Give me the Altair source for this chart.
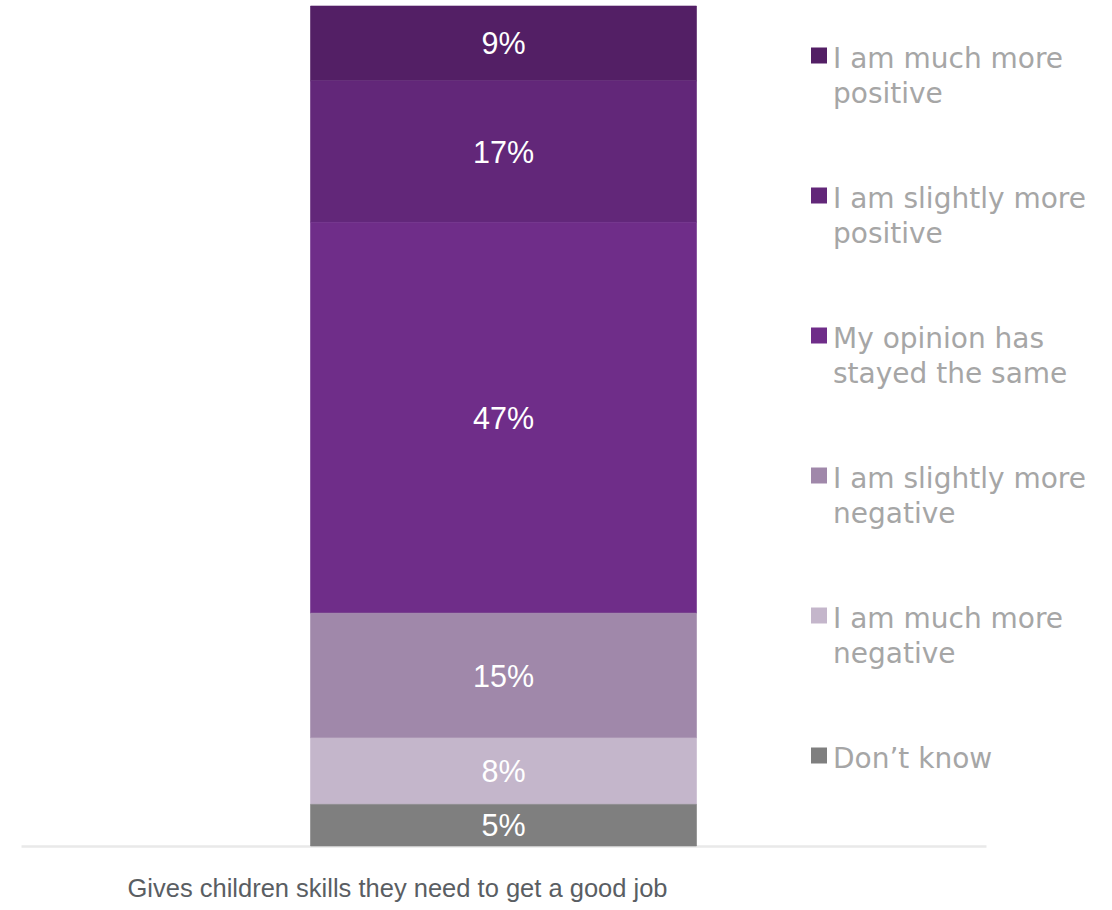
import json
import altair as alt
import pandas as pd

question = "Gives children skills they need to get a good job"
categories = [
    "I am much more positive",
    "I am slightly more positive",
    "My opinion has stayed the same",
    "I am slightly more negative",
    "I am much more negative",
    "Don\u2019t know",
]
label_lines = [
    ["I am much more", "positive"],
    ["I am slightly more", "positive"],
    ["My opinion has", "stayed the same"],
    ["I am slightly more", "negative"],
    ["I am much more", "negative"],
    ["Don\u2019t know"],
]
values = [9, 17, 47, 15, 8, 5]
colors = ["#531f65", "#622779", "#6f2d89", "#a088aa", "#c4b6cb", "#7f7f7f"]

n = len(categories)
df = pd.DataFrame({
    "q": [question] * n,
    "cat": categories,
    "v": values,
    "rank": [n - 1 - i for i in range(n)],
    "lab": [f"{v}%" for v in values],
})

label_expr = " : ".join(
    f"datum.label == {json.dumps(c)} ? {json.dumps(l)}" for c, l in zip(categories, label_lines)
) + " : datum.label"

x_enc = alt.X(
    "q:N",
    scale=alt.Scale(paddingInner=0, paddingOuter=0.75),
    axis=alt.Axis(
        title=None,
        ticks=False,
        domainColor="#e9e9e9",
        domainWidth=2.5,
        labelFont="Liberation Sans",
        labelFontSize=25.5,
        labelColor="#5a5e63",
        labelOffset=-106,
        labelPadding=40,
        labelLimit=0,
        labelAngle=0,
    ),
)
y_scale = alt.Scale(domain=[0, 101], nice=False, zero=True)
color_scale = alt.Scale(domain=categories, range=colors)

base = alt.Chart(df).transform_stack(
    stack="v", groupby=["q"], as_=["y0", "y1"], sort=[alt.SortField("rank", order="ascending")]
).transform_calculate(mid="(datum.y0 + datum.y1) / 2")

bars = base.mark_bar(strokeWidth=0.6).encode(
    x=x_enc,
    y=alt.Y("y0:Q", scale=y_scale, axis=None),
    y2="y1:Q",
    stroke=alt.Stroke("cat:N", scale=color_scale, legend=None),
    color=alt.Color(
        "cat:N",
        scale=color_scale,
        legend=alt.Legend(
            title=None,
            orient="none",
            legendX=784,
            legendY=35.5,
            padding=0,
            symbolType="square",
            symbolSize=256,
            symbolStrokeWidth=0,
            labelFont="DejaVu Sans",
            labelFontSize=28,
            labelColor="#a6a6a6",
            labelOffset=0,
            labelBaseline="top",
            labelLimit=600,
            labelExpr=label_expr,
            rowPadding=73,
            direction="vertical",
            columns=1,
        ),
    ),
)

texts = base.mark_text(
    color="white", font="Liberation Sans", fontSize=30.5, baseline="middle", align="center", dy=2
).encode(
    x=alt.X("q:N"),
    y=alt.Y("mid:Q", scale=y_scale, axis=None),
    text="lab:N",
)

chart = alt.layer(bars, texts).properties(
    width=965,
    height=840,
    autosize=alt.AutoSizeParams(type="none"),
    padding={"left": 21, "top": 6, "right": 126, "bottom": 64},
    background="white",
).configure(
    style={"guide-label": {"dy": -10, "lineHeight": 35}}
).configure_view(strokeWidth=0)

chart.save("out.html", embed_options={"renderer": "svg", "actions": False})
